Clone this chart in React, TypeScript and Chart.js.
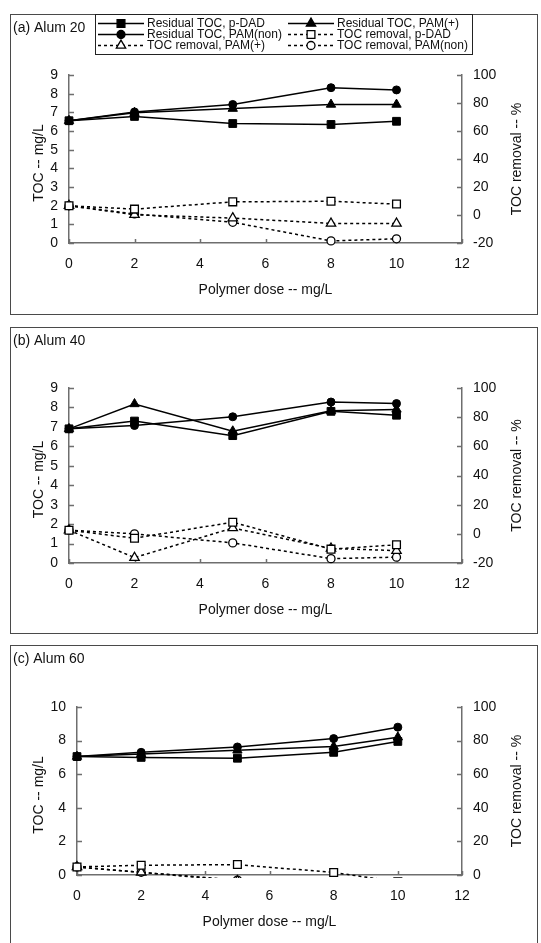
import React, { useEffect, useRef } from 'react';
import { Chart, registerables } from 'chart.js';

Chart.register(...registerables);

// Polymer dose (mg/L) used in every jar test
const doses = [0, 2, 5, 8, 10];

const seriesLabels = [
  'Residual TOC, p-DAD',
  'Residual TOC, PAM(+)',
  'Residual TOC, PAM(non)',
  'TOC removal, p-DAD',
  'TOC removal, PAM(+)',
  'TOC removal, PAM(non)',
];

// Alum 20 mg/L
const alum20ResidualPDAD = [6.55, 6.78, 6.4, 6.35, 6.52];
const alum20ResidualPAMpos = [6.55, 6.98, 7.2, 7.42, 7.42];
const alum20ResidualPAMnon = [6.55, 7.02, 7.42, 8.32, 8.2];
const alum20RemovalPDAD = [6.6, 4.2, 9.4, 9.8, 7.8];
const alum20RemovalPAMpos = [6.6, 0.2, -2.2, -6, -6];
const alum20RemovalPAMnon = [6.6, 0.8, -5.2, -18.5, -17];

// Alum 40 mg/L
const alum40ResidualPDAD = [6.9, 7.3, 6.55, 7.8, 7.6];
const alum40ResidualPAMpos = [6.9, 8.18, 6.78, 7.83, 7.9];
const alum40ResidualPAMnon = [6.9, 7.07, 7.52, 8.28, 8.2];
const alum40RemovalPDAD = [2.5, -3, 8, -10.5, -7.5];
const alum40RemovalPAMpos = [2.5, -16.3, 4, -10, -11.5];
const alum40RemovalPAMnon = [2.5, 0, -6.2, -17, -16];

// Alum 60 mg/L
const alum60ResidualPDAD = [7.05, 7.0, 6.95, 7.3, 7.95];
const alum60ResidualPAMpos = [7.05, 7.2, 7.42, 7.65, 8.2];
const alum60ResidualPAMnon = [7.05, 7.3, 7.62, 8.12, 8.8];
const alum60RemovalPDAD = [4.8, 5.8, 6.2, 1.5, -4];
const alum60RemovalPAMpos = [4.8, 1.6, -3.5, -7, -9];
const alum60RemovalPAMnon = [4.8, 1.6, -3, -9, -11];

const xTitle = 'Polymer dose -- mg/L';
const yTitle = 'TOC -- mg/L';
const y1Title = 'TOC removal -- %';

const FONT = "Arial, 'Liberation Sans', Helvetica, sans-serif";
const TEXT = '#111';
const AXIS = '#6e6e6e';
const markerStyles = ['rect', 'triangle', 'circle'];

type Area = { left: number; right: number; top: number; bottom: number };
type PanelSpec = {
  title: string;
  top: number;
  boxHeight: number;
  canvasHeight: number;
  area: Area;
  yMax: number;
  yStep: number;
  y1Min: number;
  y1Max: number;
  residual: number[][];
  removal: number[][];
  legend: boolean;
};

const panels: PanelSpec[] = [
  {
    title: '(a) Alum 20',
    top: 14,
    boxHeight: 301,
    canvasHeight: 301,
    area: { left: 69, right: 462, top: 75, bottom: 243 },
    yMax: 9,
    yStep: 1,
    y1Min: -20,
    y1Max: 100,
    residual: [alum20ResidualPDAD, alum20ResidualPAMpos, alum20ResidualPAMnon],
    removal: [alum20RemovalPDAD, alum20RemovalPAMpos, alum20RemovalPAMnon],
    legend: true,
  },
  {
    title: '(b) Alum 40',
    top: 327,
    boxHeight: 307,
    canvasHeight: 307,
    area: { left: 69, right: 462, top: 388, bottom: 563 },
    yMax: 9,
    yStep: 1,
    y1Min: -20,
    y1Max: 100,
    residual: [alum40ResidualPDAD, alum40ResidualPAMpos, alum40ResidualPAMnon],
    removal: [alum40RemovalPDAD, alum40RemovalPAMpos, alum40RemovalPAMnon],
    legend: false,
  },
  {
    title: '(c) Alum 60',
    top: 645,
    boxHeight: 330,
    canvasHeight: 298,
    area: { left: 77, right: 462, top: 707, bottom: 875 },
    yMax: 10,
    yStep: 2,
    y1Min: 0,
    y1Max: 100,
    residual: [alum60ResidualPDAD, alum60ResidualPAMpos, alum60ResidualPAMnon],
    removal: [alum60RemovalPDAD, alum60RemovalPAMpos, alum60RemovalPAMnon],
    legend: false,
  },
];

const Y_WIDTH = 40;
const Y1_WIDTH = 45;
const X_HEIGHT = 40;

function drawMarker(ctx: CanvasRenderingContext2D, style: string, x: number, y: number, filled: boolean) {
  ctx.save();
  ctx.setLineDash([]);
  ctx.beginPath();
  if (style === 'rect') {
    const s = 3.9;
    ctx.rect(x - s, y - s, 2 * s, 2 * s);
  } else if (style === 'triangle') {
    const r = 5.4;
    ctx.moveTo(x, y - r);
    ctx.lineTo(x + r * 0.866, y + r * 0.5);
    ctx.lineTo(x - r * 0.866, y + r * 0.5);
    ctx.closePath();
  } else {
    ctx.arc(x, y, 4, 0, Math.PI * 2);
  }
  ctx.fillStyle = filled ? '#000' : '#fff';
  ctx.fill();
  ctx.lineWidth = 1.3;
  ctx.strokeStyle = '#000';
  ctx.stroke();
  ctx.restore();
}

const panelDecor = {
  id: 'panelDecor',
  beforeDatasetsDraw(chart: any) {
    // Excel-style tick marks pointing into the plot area
    const ctx: CanvasRenderingContext2D = chart.ctx;
    const { x, y, y1 } = chart.scales;
    const a = chart.chartArea;
    ctx.save();
    ctx.strokeStyle = AXIS;
    ctx.lineWidth = 1.5;
    ctx.beginPath();
    x.ticks.forEach((t: any) => {
      const px = Math.round(x.getPixelForValue(t.value)) + 0.5;
      ctx.moveTo(px, a.bottom);
      ctx.lineTo(px, a.bottom - 4);
    });
    y.ticks.forEach((t: any) => {
      const py = Math.round(y.getPixelForValue(t.value)) + 0.5;
      ctx.moveTo(a.left, py);
      ctx.lineTo(a.left + 5, py);
    });
    y1.ticks.forEach((t: any) => {
      const py = Math.round(y1.getPixelForValue(t.value)) + 0.5;
      ctx.moveTo(a.right, py);
      ctx.lineTo(a.right - 5, py);
    });
    ctx.stroke();
    ctx.restore();
  },
  afterDraw(chart: any, _args: any, opts: any) {
    const ctx: CanvasRenderingContext2D = chart.ctx;
    const a = chart.chartArea;
    ctx.save();
    ctx.fillStyle = TEXT;
    ctx.textBaseline = 'middle';

    // panel title
    ctx.font = `14px ${FONT}`;
    ctx.textAlign = 'left';
    ctx.fillText(opts.title, 13, 14);

    // axis titles
    ctx.textAlign = 'center';
    ctx.fillText(xTitle, (a.left + a.right) / 2, a.bottom + 47);
    const midY = (a.top + a.bottom) / 2;
    ctx.save();
    ctx.translate(39, midY + 4);
    ctx.rotate(-Math.PI / 2);
    ctx.fillText(yTitle, 0, 0);
    ctx.restore();
    ctx.save();
    ctx.translate(517, midY);
    ctx.rotate(-Math.PI / 2);
    ctx.fillText(y1Title, 0, 0);
    ctx.restore();

    if (opts.legend) {
      ctx.strokeStyle = '#222';
      ctx.lineWidth = 1;
      ctx.strokeRect(95.5, 0.5, 377, 40);
      const rows = [9, 20, 31];
      const cols = [
        { x0: 98, x1: 144, tx: 147 },
        { x0: 288, x1: 334, tx: 337 },
      ];
      ctx.font = `12px ${FONT}`;
      ctx.textAlign = 'left';
      seriesLabels.forEach((label, i) => {
        const r = rows[Math.floor(i / 2)];
        const c = cols[i % 2];
        const removal = i >= 3;
        ctx.save();
        ctx.strokeStyle = '#000';
        ctx.lineWidth = 1.5;
        ctx.setLineDash(removal ? [3, 3] : []);
        ctx.beginPath();
        ctx.moveTo(c.x0, r + 0.5);
        ctx.lineTo(c.x1, r + 0.5);
        ctx.stroke();
        ctx.restore();
        drawMarker(ctx, markerStyles[i % 3], (c.x0 + c.x1) / 2, r + 0.5, !removal);
        ctx.fillStyle = TEXT;
        ctx.fillText(label, c.tx, r + 1);
      });
    }
    ctx.restore();
  },
};

function buildConfig(spec: PanelSpec): any {
  const pointRadius: Record<string, number> = { rect: 5.5, triangle: 5.4, circle: 4 };
  const clip = { left: 8, right: 8, top: 8, bottom: 3 };
  const datasets: any[] = [];
  spec.residual.forEach((vals, i) => {
    datasets.push({
      label: seriesLabels[i],
      data: doses.map((d, j) => ({ x: d, y: vals[j] })),
      yAxisID: 'y',
      borderColor: '#000',
      borderWidth: 1.5,
      pointStyle: markerStyles[i],
      pointRadius: pointRadius[markerStyles[i]],
      pointBackgroundColor: '#000',
      pointBorderColor: '#000',
      pointBorderWidth: 1,
      tension: 0,
      clip,
    });
  });
  spec.removal.forEach((vals, i) => {
    datasets.push({
      label: seriesLabels[i + 3],
      data: doses.map((d, j) => ({ x: d, y: vals[j] })),
      yAxisID: 'y1',
      borderColor: '#000',
      borderWidth: 1.5,
      borderDash: [3, 3],
      pointStyle: markerStyles[i],
      pointRadius: pointRadius[markerStyles[i]],
      pointBackgroundColor: '#fff',
      pointBorderColor: '#000',
      pointBorderWidth: 1.3,
      tension: 0,
      clip,
    });
  });

  const top = spec.area.top - spec.top;
  const bottom = spec.area.bottom - spec.top;
  const tickFont = { family: FONT, size: 14 };
  const axisCommon = {
    grid: { display: false, drawTicks: false },
    border: { display: true, color: AXIS, width: 1.5 },
  };

  return {
    type: 'line',
    data: { datasets },
    plugins: [panelDecor],
    options: {
      responsive: false,
      maintainAspectRatio: false,
      animation: false,
      devicePixelRatio: 1,
      events: [],
      layout: {
        padding: {
          left: spec.area.left - Y_WIDTH,
          right: 541 - spec.area.right - Y1_WIDTH,
          top,
          bottom: spec.canvasHeight - bottom - X_HEIGHT,
        },
      },
      plugins: {
        legend: { display: false },
        tooltip: { enabled: false },
        panelDecor: { title: spec.title, legend: spec.legend },
      },
      scales: {
        x: {
          type: 'linear',
          position: 'bottom',
          min: 0,
          max: 12,
          ticks: { stepSize: 2, padding: 13, font: tickFont, color: TEXT, maxRotation: 0, autoSkip: false },
          ...axisCommon,
          afterFit: (s: any) => {
            s.height = X_HEIGHT;
          },
        },
        y: {
          type: 'linear',
          position: 'left',
          min: 0,
          max: spec.yMax,
          ticks: { stepSize: spec.yStep, padding: 11, font: tickFont, color: TEXT, autoSkip: false },
          ...axisCommon,
          afterFit: (s: any) => {
            s.width = Y_WIDTH;
          },
        },
        y1: {
          type: 'linear',
          position: 'right',
          min: spec.y1Min,
          max: spec.y1Max,
          ticks: { stepSize: 20, padding: 11, font: tickFont, color: TEXT, autoSkip: false },
          ...axisCommon,
          afterFit: (s: any) => {
            s.width = Y1_WIDTH;
          },
        },
      },
    },
  };
}

function Panel({ spec }: { spec: PanelSpec }) {
  const ref = useRef<HTMLCanvasElement>(null);
  useEffect(() => {
    const chart = new Chart(ref.current as HTMLCanvasElement, buildConfig(spec));
    return () => chart.destroy();
  }, [spec]);
  return (
    <>
      <div
        style={{
          position: 'absolute',
          left: 10,
          top: spec.top,
          width: 528,
          height: spec.boxHeight,
          border: '1px solid #4a4a4a',
          boxSizing: 'border-box',
        }}
      />
      <canvas
        ref={ref}
        width={541}
        height={spec.canvasHeight}
        style={{ position: 'absolute', left: 0, top: spec.top, width: 541, height: spec.canvasHeight }}
      />
    </>
  );
}

export default function App() {
  return (
    <div
      style={{
        position: 'absolute',
        left: 0,
        top: 0,
        width: 541,
        height: 943,
        overflow: 'hidden',
        background: '#fff',
      }}
    >
      {panels.map((p) => (
        <Panel key={p.title} spec={p} />
      ))}
    </div>
  );
}
